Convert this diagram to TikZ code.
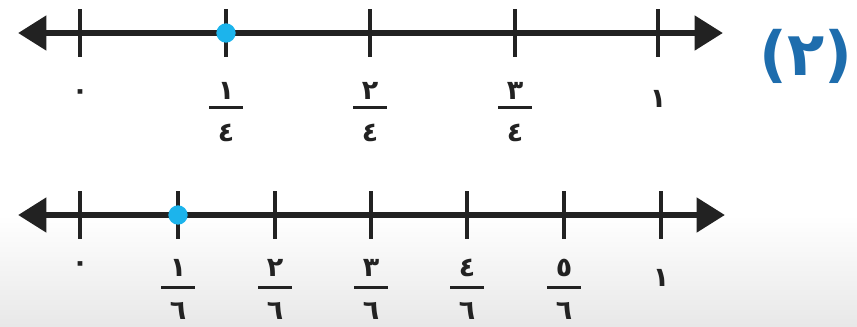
\documentclass[tikz,border=0pt]{standalone}
\usepackage{fontspec}
\newfontfamily\arabicfont[Script=Arabic]{DejaVu Sans}
\usetikzlibrary{arrows.meta,positioning,calc}
\definecolor{dotblue}{HTML}{1CB4EC}
\definecolor{labelblue}{HTML}{1E6DAD}
\definecolor{linegray}{HTML}{222222}

\begin{document}
\begin{tikzpicture}[x=0.03cm,y=-0.03cm,
    axis/.style={draw=linegray,line width=0.2cm,
      {Triangle[length=0.85cm,width=1.0cm]}-{Triangle[length=0.85cm,width=1.0cm]}},
    tickmark/.style={fill=linegray,inner sep=0pt,minimum width=0.12cm,minimum height=1.45cm},
    dot/.style={circle,fill=dotblue,inner sep=0pt,minimum size=0.58cm},
    digit/.style={inner sep=0pt,text=linegray,font=\arabicfont\bfseries\fontsize{23}{26}\selectfont},
    bar/.style={fill=linegray,inner sep=0pt,minimum width=1.0cm,minimum height=0.09cm}]
    \useasboundingbox (0,0) rectangle (857,326);
    \shade[top color=white,bottom color=black!9,draw=none] (0,215) rectangle (857,326);

    % quarters
    \coordinate (qL) at (18,33);
    \coordinate (qR) at (723,33);
    \draw[axis] (qL) -- (qR);
    \foreach \i/\x in {0/80,1/226,2/370,3/515,4/658}{
      \node[tickmark] (q\i) at (\x,33) {};
    }
    \node[dot] (qdot) at (q1) {};
    \node[digit] (q0lab) at (80,95) {٠};
    \foreach \i/\x/\n in {1/226/١,2/370/٢,3/515/٣}{
      \node[digit] (q\i num) at (\x,91) {\n};
      \node[bar] (q\i bar) at (\x,107) {};
      \node[digit] (q\i den) at (\x,133) {٤};
    }
    \node[digit] (q4lab) at (658,99) {١};

    % sixths
    \coordinate (sL) at (18,215);
    \coordinate (sR) at (725,215);
    \draw[axis] (sL) -- (sR);
    \foreach \i/\x in {0/80,1/178,2/275,3/371,4/467,5/564,6/661}{
      \node[tickmark] (s\i) at (\x,215) {};
    }
    \node[dot] (sdot) at (s1) {};
    \node[digit] (s0lab) at (80,267) {٠};
    \foreach \i/\x/\n in {1/178/١,2/275/٢,3/371/٣,4/467/٤,5/564/٥}{
      \node[digit] (s\i num) at (\x,268) {\n};
      \node[bar] (s\i bar) at (\x,287) {};
      \node[digit] (s\i den) at (\x,311) {٦};
    }
    \node[digit] (s6lab) at (661,278) {١};

    % exercise number
    \node[inner sep=0pt,text=labelblue,font=\arabicfont\bfseries\fontsize{52}{58}\selectfont] (exno) at (806,56) {(٢)};
\end{tikzpicture}
\end{document}
